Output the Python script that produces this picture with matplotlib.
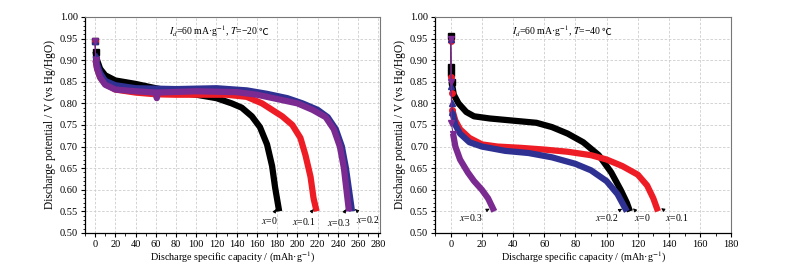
import matplotlib.pyplot as plt
from matplotlib.ticker import MultipleLocator

plt.rcParams['font.family'] = ['Liberation Serif', 'DejaVu Serif']
plt.rcParams['mathtext.fontset'] = 'stix'

# ---- T = -20 C panel ----
a_x0_cap = [0, 0.5, 2, 5, 10, 20, 40, 60, 80, 100, 120, 135, 145, 155, 163, 170, 175, 178, 182]
a_x0_v = [0.945, 0.92, 0.90, 0.88, 0.865, 0.853, 0.845, 0.835, 0.826, 0.82, 0.812, 0.80, 0.79, 0.77, 0.745, 0.705, 0.655, 0.605, 0.55]
a_x1_cap = [0, 0.5, 2, 5, 10, 20, 40, 60, 80, 100, 130, 150, 165, 175, 185, 195, 203, 208, 213, 216, 219]
a_x1_v = [0.945, 0.90, 0.88, 0.86, 0.845, 0.832, 0.825, 0.821, 0.82, 0.82, 0.82, 0.815, 0.80, 0.785, 0.77, 0.75, 0.72, 0.68, 0.63, 0.58, 0.55]
a_x2_cap = [0, 0.5, 2, 5, 10, 20, 40, 80, 120, 150, 170, 190, 205, 220, 230, 238, 244, 248, 251, 254]
a_x2_v = [0.945, 0.91, 0.89, 0.87, 0.852, 0.842, 0.835, 0.833, 0.835, 0.83, 0.822, 0.812, 0.80, 0.785, 0.768, 0.74, 0.70, 0.65, 0.60, 0.55]
a_x3_cap = [0, 0.5, 2, 5, 10, 20, 40, 60, 61, 62, 100, 140, 160, 180, 200, 215, 228, 236, 242, 246, 248.5, 251]
a_x3_v = [0.945, 0.90, 0.88, 0.86, 0.843, 0.832, 0.828, 0.825, 0.812, 0.825, 0.828, 0.826, 0.82, 0.81, 0.80, 0.785, 0.768, 0.74, 0.70, 0.65, 0.60, 0.55]

# ---- T = -40 C panel ----
b_x0_cap = [0, 0.2, 0.4, 0.6, 2, 5, 10, 15, 25, 40, 55, 65, 75, 85, 95, 103, 109, 113, 115]
b_x0_v = [0.955, 0.885, 0.87, 0.85, 0.82, 0.80, 0.78, 0.77, 0.765, 0.76, 0.755, 0.745, 0.73, 0.71, 0.68, 0.64, 0.60, 0.57, 0.55]
b_x1_cap = [0, 0.3, 0.6, 1, 3, 6, 12, 20, 30, 45, 60, 75, 90, 100, 110, 120, 126, 130, 133]
b_x1_v = [0.945, 0.86, 0.825, 0.785, 0.76, 0.74, 0.72, 0.705, 0.70, 0.697, 0.693, 0.688, 0.68, 0.67, 0.655, 0.635, 0.61, 0.58, 0.55]
b_x2_cap = [0, 0.3, 0.6, 1, 3, 6, 12, 20, 35, 50, 65, 80, 90, 100, 107, 110, 113]
b_x2_v = [0.95, 0.84, 0.80, 0.78, 0.75, 0.73, 0.71, 0.70, 0.69, 0.685, 0.675, 0.66, 0.645, 0.62, 0.59, 0.57, 0.55]
b_x3_cap = [0, 0.3, 0.5, 1.5, 3, 6, 11, 15, 20, 24, 28]
b_x3_v = [0.95, 0.85, 0.755, 0.73, 0.70, 0.67, 0.64, 0.62, 0.60, 0.58, 0.55]

colors = ['black', '#ee1c24', '#2e3192', '#7a2a90']
markers = ['s', 'o', '^', 'v']

fig = plt.figure(figsize=(7.94, 2.69), dpi=100)
ax1 = fig.add_axes([0.107, 0.134, 0.372, 0.803])
ax2 = fig.add_axes([0.548, 0.134, 0.373, 0.803])

series1 = [(a_x0_cap, a_x0_v), (a_x1_cap, a_x1_v), (a_x2_cap, a_x2_v), (a_x3_cap, a_x3_v)]
series2 = [(b_x0_cap, b_x0_v), (b_x1_cap, b_x1_v), (b_x2_cap, b_x2_v), (b_x3_cap, b_x3_v)]

for ax, series, nhead in [(ax1, series1, 1), (ax2, series2, 3)]:
    for (cap, v), c, m in zip(series, colors, markers):
        ax.plot(cap[:nhead + 1], v[:nhead + 1], color=c, lw=0.7)
        ax.plot(cap[nhead:], v[nhead:], color=c, lw=4.5, solid_capstyle='butt')
        ax.plot(cap[:nhead + 1], v[:nhead + 1], color=c, marker=m, ms=4, ls='none')
    ax.set_ylim(0.50, 1.00)
    ax.yaxis.set_major_locator(MultipleLocator(0.05))
    ax.yaxis.set_minor_locator(MultipleLocator(0.01))
    ax.xaxis.set_major_locator(MultipleLocator(20))
    ax.xaxis.set_minor_locator(MultipleLocator(10))
    ax.yaxis.set_major_formatter(plt.FormatStrFormatter('%.2f'))
    ax.grid(True, color='#cccccc', ls=(0, (3, 2)), lw=0.6)
    ax.set_axisbelow(True)
    ax.tick_params(which='both', direction='out', labelsize=7.5, pad=2)
    ax.tick_params(which='major', length=3, width=0.8)
    ax.tick_params(which='minor', length=1.8, width=0.6)
    ax.spines['left'].set_linewidth(0.9)
    ax.spines['bottom'].set_linewidth(0.9)
    ax.spines['top'].set_color('#777777')
    ax.spines['right'].set_color('#777777')
    ax.set_xlabel('Discharge specific capacity / (mAh·g$^{-1}$)', fontsize=7.3, labelpad=1)
    ax.set_ylabel('Discharge potential / V (vs Hg/HgO)', fontsize=8.3, labelpad=3)

ax1.set_xlim(-10, 282)
ax2.set_xlim(-10, 180)

for ax, x, label in [(ax1, 162, '\u221220'), (ax2, 97, '\u221240')]:
    t = ax.text(x, 0.966, '$I_d$=60 mA·g$^{-1}$, $T$=' + label + ' ', ha='right', va='center', fontsize=7)
    ax.annotate('\u2103', xy=(1, 0.5), xycoords=t, ha='left', va='center', fontsize=7,
                family=['Noto Sans CJK SC', 'DejaVu Sans'])

arrow = dict(arrowstyle='-|>', color='black', lw=0.6, mutation_scale=5)
ax1.annotate('$x$=0', xy=(179, 0.555), xytext=(172, 0.528), fontsize=7, ha='center', va='center', arrowprops=arrow)
ax1.annotate('$x$=0.1', xy=(216, 0.555), xytext=(206, 0.527), fontsize=7, ha='center', va='center', arrowprops=arrow)
ax1.annotate('$x$=0.3', xy=(248, 0.555), xytext=(241, 0.525), fontsize=7, ha='center', va='center', arrowprops=arrow)
ax1.annotate('$x$=0.2', xy=(257, 0.555), xytext=(270, 0.53), fontsize=7, ha='center', va='center', arrowprops=arrow)

ax2.annotate('$x$=0.3', xy=(25, 0.556), xytext=(13, 0.535), fontsize=7, ha='center', va='center', arrowprops=arrow)
ax2.annotate('$x$=0.2', xy=(110, 0.556), xytext=(100, 0.535), fontsize=7, ha='center', va='center', arrowprops=arrow)
ax2.annotate('$x$=0', xy=(117, 0.557), xytext=(123, 0.535), fontsize=7, ha='center', va='center', arrowprops=arrow)
ax2.annotate('$x$=0.1', xy=(135, 0.557), xytext=(145, 0.535), fontsize=7, ha='center', va='center', arrowprops=arrow)

fig.savefig('out.png', dpi=100)
